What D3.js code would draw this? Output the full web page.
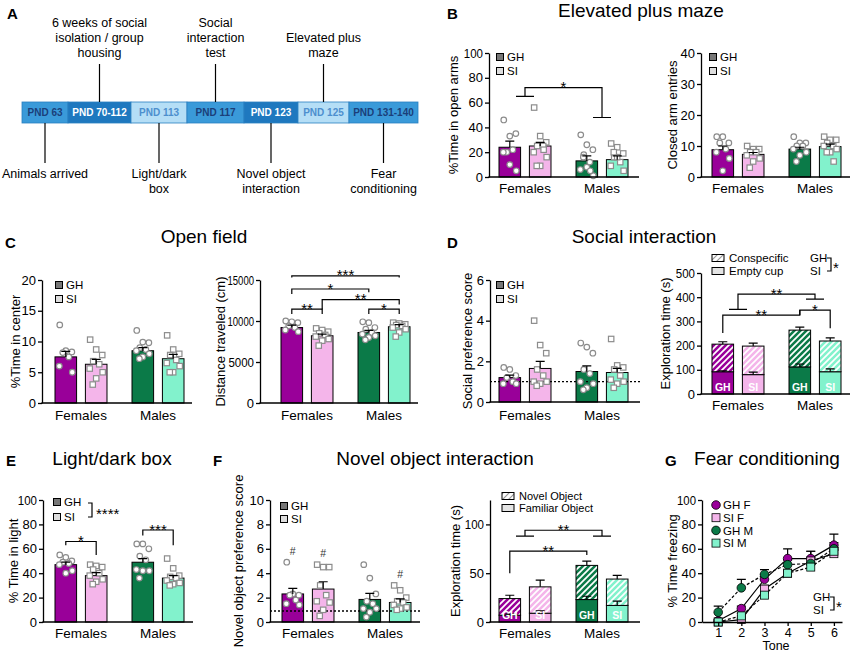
<!DOCTYPE html>
<html>
<head>
<meta charset="utf-8">
<script src="https://cdn.jsdelivr.net/npm/d3@7"></script>
<style>
  body { margin: 0; background: #fff; }
  svg { display: block; font-family: "Liberation Sans", Arial, Helvetica, sans-serif; }
</style>
</head>
<body>
<svg id="fig" width="850" height="653"></svg>
<script>
// 分组与条件
const groups = ["Females", "Males"];
const conds = ["GH", "SI"];

// A：实验时间轴
const pndLabels = ["PND 63", "PND 70-112", "PND 113", "PND 117", "PND 123", "PND 125", "PND 131-140"];
const aboveEvents = [
  { seg: 1, lines: ["6 weeks of social", "isolation / group", "housing"] },
  { seg: 3, lines: ["Social", "interaction", "test"] },
  { seg: 5, lines: ["Elevated plus", "maze"] }
];
const belowEvents = [
  { seg: 0, lines: ["Animals arrived"] },
  { seg: 2, lines: ["Light/dark", "box"] },
  { seg: 4, lines: ["Novel object", "interaction"] },
  { seg: 6, lines: ["Fear", "conditioning"] }
];

// B：高架十字迷宫
const epmOpenMean = [24, 25, 13, 14];
const epmOpenSem = [5, 3, 4, 3];
const epmOpenPts = [
  [46, 33, 35, 20, 22, 20, 5, 10],
  [56, 33, 28, 25, 25, 20, 16, 9, 9, 22],
  [34, 26, 22, 18, 12, 6, 1, 8, 16, 5],
  [27, 24, 19, 16, 12, 9, 5, 16, 20]
];
const epmClosedMean = [8.8, 7.3, 9, 9.8];
const epmClosedSem = [1.2, 0.6, 0.6, 0.8];
const epmClosedPts = [
  [13, 13, 11, 11, 9, 8, 6, 2],
  [10, 9, 9, 8, 8, 7, 6, 5, 3],
  [13, 11, 11, 10, 10, 9, 8, 7, 5],
  [13, 12, 12, 11, 10, 10, 9, 8, 8, 5]
];

// C：旷场
const ofCenterMean = [7.5, 6.3, 8.5, 7.2];
const ofCenterSem = [0.9, 0.8, 0.5, 0.7];
const ofCenterPts = [
  [12.7, 8.5, 8.3, 8.2, 7.5, 6, 5],
  [10.3, 8.7, 7.8, 6.8, 6.3, 5.6, 5, 4, 3],
  [11.8, 9.9, 9.8, 9, 8.7, 8.5, 8, 7.5, 7.2],
  [11, 8.7, 8, 7.8, 7, 6.5, 6, 5, 5]
];
const ofDistMean = [9200, 8200, 8600, 9300];
const ofDistSem = [300, 200, 250, 250];
const ofDistPts = [
  [10000, 9900, 9800, 9400, 9200, 8900, 8700],
  [9100, 8900, 8700, 8500, 8300, 8100, 7800, 7600, 7000],
  [9900, 9800, 9200, 9000, 8600, 8400, 8200, 8000, 7700],
  [9800, 9700, 9600, 9500, 9400, 9200, 9000, 8600, 8100]
];

// D：社交互动
const siPrefMean = [1.2, 1.65, 1.5, 1.45];
const siPrefSem = [0.12, 0.35, 0.28, 0.2];
const siPrefPts = [
  [1.7, 1.6, 1.3, 1.2, 1.0, 0.9, 0.9],
  [4.0, 2.8, 2.4, 1.6, 1.3, 1.0, 1.0, 0.9, 0.8],
  [2.9, 2.7, 2.4, 1.6, 1.4, 1.0, 0.9, 0.7, 0.6],
  [3.1, 1.8, 1.7, 1.6, 1.3, 1.1, 1.0, 0.9, 0.7]
];
const siEmptyCup = [92, 80, 112, 92];
const siEmptyCupSem = [4, 10, 12, 12];
const siConspecific = [114, 118, 152, 127];
const siTotalSem = [10, 12, 12, 13];

// E：明暗箱
const ldLightMean = [47, 38, 49, 36];
const ldLightSem = [2, 2.5, 3, 2];
const ldLightPts = [
  [55, 53, 50, 49, 48, 47, 42, 40],
  [47, 46, 45, 43, 40, 38, 35, 33, 31],
  [64, 64, 60, 54, 51, 43, 42, 42, 36],
  [52, 44, 38, 37, 36, 34, 32, 31, 30]
];

// F：新物体
const noPrefMean = [2.3, 2.7, 1.85, 1.6];
const noPrefSem = [0.45, 0.6, 0.5, 0.3];
const noPrefPts = [
  [4.9, 2.3, 2.2, 2.2, 1.8, 1.5, 1.4],
  [4.7, 4.5, 4.5, 3.0, 2.2, 1.7, 1.6, 1.0, 0.5],
  [4.7, 3.6, 2.3, 1.7, 1.5, 1.1, 1.1, 0.8, 0.4],
  [3.0, 2.6, 2.0, 1.7, 1.6, 1.4, 1.2, 1.1, 1.0]
];
const noPrefHash = [true, true, false, true];
const noFamiliar = [7, 9, 23, 17];
const noFamiliarSem = [1, 2.4, 3.4, 4.4];
const noNovel = [17, 27, 35, 27];
const noTotalSem = [3.4, 7, 4.4, 3.7];

// G：恐惧条件反射
const tones = [1, 2, 3, 4, 5, 6];
const fcNames = ["GH F", "SI F", "GH M", "SI M"];
const fcMean = [
  [1, 11, 35, 52, 52, 63],
  [0, 2, 27, 40, 50, 56],
  [8, 28, 39, 47, 48, 60],
  [0, 5, 22, 40, 45, 58]
];
const fcSem = [
  [1, 2, 4, 8, 6, 9],
  [0.5, 1, 3, 2, 3, 3],
  [5, 7, 4, 4, 10, 5],
  [0.5, 2, 2, 2, 3, 3]
];

// 样式
const barColors = ["#990099", "#f4b5ea", "#0b7a48", "#82f2cc"];
const segWeights = [46, 63, 56, 57, 54, 51, 69];
const segFill = ["#3a9ad9", "#1e78bf", "#b5def6", "#3a9ad9", "#1e78bf", "#b5def6", "#3a9ad9"];
const segText = ["#1b3f7a", "#ffffff", "#4d8fce", "#1b3f7a", "#ffffff", "#4d8fce", "#1b3f7a"];
const jitter = [-0.28, 0, 0.28, -0.14, 0.14, -0.3, 0.3, 0, -0.16, 0.16];
const FONT = '"Liberation Sans", Arial, Helvetica, sans-serif';

const svg = d3.select("#fig");
const defs = svg.append("defs");

// 斜线填充
function hatch(id, base, stripe, w) {
  const p = defs.append("pattern").attr("id", id)
    .attr("patternUnits", "userSpaceOnUse").attr("width", 6).attr("height", 6);
  p.append("rect").attr("width", 6).attr("height", 6).attr("fill", base);
  p.append("path").attr("d", "M-1,1L1,-1M0,6L6,0M5,7L7,5")
    .attr("stroke", stripe).attr("stroke-width", w);
}
barColors.forEach((c, i) => hatch("hatch" + i, c, "#fff", 1.7));
hatch("hatchLegend", "#fff", "#999", 1.2);

function text(g, x, y, s, size, o = {}) {
  return g.append("text").attr("x", x).attr("y", y)
    .attr("font-size", size)
    .attr("text-anchor", o.anchor || "start")
    .attr("font-weight", o.bold ? "bold" : null)
    .attr("fill", o.fill || "#000")
    .text(s);
}

function errBar(g, x, y1, y2) {
  g.append("path").attr("d", `M${x},${y1}V${y2}M${x - 4.5},${y2}H${x + 4.5}`)
    .attr("stroke", "#000").attr("stroke-width", 1.2).attr("fill", "none");
}

function stars(g, x, lineY, s) {
  text(g, x, lineY + 4.5, s, 15, { anchor: "middle" });
}

function styleAxis(a, size) {
  a.attr("font-family", FONT).attr("font-size", size || 13);
  a.select(".domain").attr("stroke-width", 1.3);
  a.selectAll(".tick line").attr("stroke-width", 1.3);
  a.selectAll(".tick text").attr("fill", "#000");
}

// 通用柱状图
function barChart(c) {
  const g = svg.append("g");
  const axisLen = c.axisLen || 150;
  const y = d3.scaleLinear().domain(c.domain).range([c.y0, c.y1]);
  const gx = d3.scaleBand().domain(groups)
    .range([c.ax + c.padL, c.ax + c.padL + 129]).paddingInner(0.325);
  const cx = d3.scaleBand().domain(conds).range([0, gx.bandwidth()]).paddingInner(0.29);
  const bw = cx.bandwidth();
  const bx = i => gx(groups[Math.floor(i / 2)]) + cx(conds[i % 2]);
  const bc = i => bx(i) + bw / 2;
  const gc = k => gx(groups[k]) + gx.bandwidth() / 2;

  if (c.stack) {
    const rows = c.stack.bottom.map((b, i) => ({ bottom: b, top: c.stack.top[i] }));
    const series = d3.stack().keys(["bottom", "top"])(rows);
    series.forEach((s, si) => {
      g.selectAll(null).data(s).enter().append("rect")
        .attr("x", (d, i) => bx(i))
        .attr("y", d => y(d[1]))
        .attr("width", bw)
        .attr("height", d => y(d[0]) - y(d[1]))
        .attr("fill", (d, i) => si === 0 ? barColors[i] : `url(#hatch${i})`)
        .attr("stroke", "#000").attr("stroke-width", 1);
    });
    series[0].forEach((d, i) => errBar(g, bc(i), y(d[1]), y(d[1] + c.stack.bottomSem[i])));
    series[1].forEach((d, i) => errBar(g, bc(i), y(d[1]), y(d[1] + c.stack.topSem[i])));
    series[0].forEach((d, i) => text(g, bc(i), c.y0 - 3, conds[i % 2], 10.5, { anchor: "middle", bold: true, fill: "#fff" }));
  } else {
    g.selectAll(null).data(c.means).enter().append("rect")
      .attr("x", (d, i) => bx(i))
      .attr("y", d => y(d))
      .attr("width", bw)
      .attr("height", d => y(0) - y(d))
      .attr("fill", (d, i) => barColors[i])
      .attr("stroke", "#000").attr("stroke-width", 1);
  }

  if (c.chance != null) {
    g.append("line").attr("x1", c.ax).attr("x2", c.ax + axisLen)
      .attr("y1", y(c.chance)).attr("y2", y(c.chance))
      .attr("stroke", "#000").attr("stroke-width", 1.3).attr("stroke-dasharray", "2,2");
  }

  if (c.points) {
    c.points.forEach((arr, i) => {
      arr.forEach((v, j) => {
        const px = bc(i) + jitter[j % jitter.length] * bw;
        if (i % 2 === 0) {
          g.append("circle").attr("cx", px).attr("cy", y(v)).attr("r", 2.8)
            .attr("fill", "#fff").attr("stroke", "#8c8c8c").attr("stroke-width", 1.2);
        } else {
          g.append("rect").attr("x", px - 2.7).attr("y", y(v) - 2.7).attr("width", 5.4).attr("height", 5.4)
            .attr("fill", "#fff").attr("stroke", "#8c8c8c").attr("stroke-width", 1.2);
        }
      });
    });
  }
  if (c.means) c.means.forEach((m, i) => errBar(g, bc(i), y(m), y(m + c.sems[i])));

  // y 轴
  const ya = g.append("g").attr("transform", `translate(${c.ax},0)`)
    .call(d3.axisLeft(y).tickValues(c.ticks).tickSize(4).tickSizeOuter(0).tickPadding(2).tickFormat(d3.format("d")));
  styleAxis(ya);
  ya.selectAll(".tick text").each(function (d) {
    const s = String(d);
    if (s.length >= 3) d3.select(this).attr("textLength", s.length * (s.length >= 5 ? 5.3 : 6.4)).attr("lengthAdjust", "spacingAndGlyphs");
  });
  // x 轴
  g.append("line").attr("x1", c.ax - 0.6).attr("x2", c.ax + axisLen)
    .attr("y1", c.y0).attr("y2", c.y0).attr("stroke", "#000").attr("stroke-width", 1.3);
  const xa = g.append("g").attr("transform", `translate(0,${c.y0})`)
    .call(d3.axisBottom(gx).tickSize(0).tickPadding(c.labelY - c.y0 - 9.6));
  xa.select(".domain").remove();
  xa.attr("font-family", FONT).attr("font-size", 13.5);
  xa.selectAll(".tick text").attr("fill", "#000");

  // y 轴标题
  g.append("text")
    .attr("transform", `translate(${c.titleX},${(c.y0 + c.y1) / 2}) rotate(-90)`)
    .attr("text-anchor", "middle").attr("dy", "0.35em").attr("font-size", 13)
    .text(c.yTitle);

  // 图例
  if (c.legend) {
    [["GH", "#777"], ["SI", "#ddd"]].forEach(([s, col], k) => {
      const ly = c.legend[1] + k * c.legend[2];
      g.append("rect").attr("x", c.legend[0] - 3.5).attr("y", ly - 3.5).attr("width", 7).attr("height", 7)
        .attr("fill", col).attr("stroke", "#000").attr("stroke-width", 1);
      text(g, c.legend[0] + 7, ly + 4, s, 11.5);
    });
  }
  return { g, y, bc, gc };
}

// 两端向下的显著性括号
function barBracket(ch, i, j, level, endI, endJ, label) {
  const y = ch.y;
  ch.g.append("path")
    .attr("d", `M${ch.bc(i)},${y(endI)}V${y(level)}H${ch.bc(j)}V${y(endJ)}`)
    .attr("fill", "none").attr("stroke", "#000").attr("stroke-width", 1.2);
  stars(ch.g, (ch.bc(i) + ch.bc(j)) / 2, y(level), label);
}

// 组间括号
function groupBracket(ch, lv1, lv2, top, label) {
  const y = ch.y, x1 = ch.gc(0), x2 = ch.gc(1);
  ch.g.append("path")
    .attr("d", `M${x1 - 9},${y(lv1)}H${x1 + 9}M${x1},${y(lv1)}V${y(top)}H${x2}V${y(lv2)}M${x2 - 9},${y(lv2)}H${x2 + 9}`)
    .attr("fill", "none").attr("stroke", "#000").attr("stroke-width", 1.2);
  stars(ch.g, (x1 + x2) / 2, y(top), label);
}

// "GH ] *" 标注
function condBracket(x, y1, y2, label) {
  const g = svg.append("g");
  text(g, x, y1 + 3.5, "GH", 11.5);
  text(g, x, y2 + 4, "SI", 11.5);
  const bx = x + 17;
  g.append("path").attr("d", `M${bx},${y1}H${bx + 4}V${y2}H${bx}`)
    .attr("fill", "none").attr("stroke", "#000").attr("stroke-width", 1.2);
  text(g, bx + 6, (y1 + y2) / 2 + 8.7, label, 15);
}

// 面板标题与字母
function panelTitle(x, y, s) { text(svg, x, y, s, 19, { anchor: "middle" }); }
function panelLetter(x, y, s) { text(svg, x, y, s, 15, { bold: true }); }

// ---------- A ----------
(function timeline() {
  const g = svg.append("g");
  const cum = [0];
  segWeights.forEach(w => cum.push(cum[cum.length - 1] + w));
  const x = d3.scaleLinear().domain([0, cum[cum.length - 1]]).range([22, 418]);
  const top = 102, bot = 123;
  pndLabels.forEach((lab, i) => {
    g.append("rect").attr("x", x(cum[i])).attr("y", top).attr("width", x(cum[i + 1]) - x(cum[i])).attr("height", bot - top)
      .attr("fill", segFill[i]).attr("stroke", "#2a7fc0").attr("stroke-width", 0.8);
    text(g, (x(cum[i]) + x(cum[i + 1])) / 2, 116, lab, 10, { anchor: "middle", bold: true, fill: segText[i] });
  });
  const mid = s => (x(cum[s]) + x(cum[s + 1])) / 2;
  aboveEvents.forEach(ev => {
    const cxp = mid(ev.seg);
    g.append("line").attr("x1", cxp).attr("x2", cxp).attr("y1", 64).attr("y2", top).attr("stroke", "#000").attr("stroke-width", 1.2);
    ev.lines.forEach((s, k) => text(g, cxp, 57 - (ev.lines.length - 1 - k) * 15, s, 12.5, { anchor: "middle" }));
  });
  belowEvents.forEach(ev => {
    const cxp = mid(ev.seg);
    g.append("line").attr("x1", cxp).attr("x2", cxp).attr("y1", bot).attr("y2", 163).attr("stroke", "#000").attr("stroke-width", 1.2);
    ev.lines.forEach((s, k) => text(g, cxp, 178 + k * 15, s, 12.5, { anchor: "middle" }));
  });
})();
panelLetter(7, 19, "A");

// ---------- B ----------
panelLetter(447, 19, "B");
panelTitle(641, 17, "Elevated plus maze");
const chB1 = barChart({
  ax: 489, y0: 177, y1: 53, domain: [0, 100], ticks: [0, 20, 40, 60, 80, 100], padL: 10,
  means: epmOpenMean, sems: epmOpenSem, points: epmOpenPts,
  labelY: 193, yTitle: "%Time in open arms", titleX: 453, legend: [500, 57, 14]
});
groupBracket(chB1, 65, 48, 72, "*");
barChart({
  ax: 701, y0: 177, y1: 53, domain: [0, 40], ticks: [0, 10, 20, 30, 40], padL: 11,
  means: epmClosedMean, sems: epmClosedSem, points: epmClosedPts,
  labelY: 193, yTitle: "Closed arm entries", titleX: 672, legend: [713, 57, 14]
});

// ---------- C ----------
panelLetter(5, 248, "C");
panelTitle(204, 243, "Open field");
barChart({
  ax: 42, y0: 403, y1: 280, domain: [0, 20], ticks: [0, 5, 10, 15, 20], padL: 13,
  means: ofCenterMean, sems: ofCenterSem, points: ofCenterPts,
  labelY: 420, yTitle: "%Time in center", titleX: 15, legend: [59, 285, 14]
});
const chC2 = barChart({
  ax: 260, y0: 403, y1: 280, domain: [0, 15000], ticks: [0, 5000, 10000, 15000], padL: 21, axisLen: 158,
  means: ofDistMean, sems: ofDistSem, points: ofDistPts,
  labelY: 420, yTitle: "Distance traveled (cm)", titleX: 220
});
barBracket(chC2, 0, 3, 15500, 15300, 15300, "***");
barBracket(chC2, 0, 2, 13900, 13300, 13500, "*");
barBracket(chC2, 1, 3, 12600, 11400, 12000, "**");
barBracket(chC2, 0, 1, 11450, 10850, 10850, "**");
barBracket(chC2, 2, 3, 11450, 10850, 10850, "*");

// ---------- D ----------
panelLetter(447, 248, "D");
panelTitle(644, 243, "Social interaction");
barChart({
  ax: 490, y0: 402, y1: 280, domain: [0, 6], ticks: [0, 2, 4, 6], padL: 9,
  means: siPrefMean, sems: siPrefSem, points: siPrefPts, chance: 1,
  labelY: 420, yTitle: "Social preference score", titleX: 467, legend: [500, 285, 14]
});
const chD2 = barChart({
  ax: 701, y0: 394, y1: 273, domain: [0, 500], ticks: [0, 100, 200, 300, 400, 500], padL: 11,
  stack: { bottom: siEmptyCup, bottomSem: siEmptyCupSem, top: siConspecific, topSem: siTotalSem },
  labelY: 410, yTitle: "Exploration time (s)", titleX: 665
});
groupBracket(chD2, 350, 392, 413, "**");
barBracket(chD2, 0, 2, 326, 252, 347, "**");
barBracket(chD2, 2, 3, 347, 326, 272, "*");
(function () {
  const g = svg.append("g");
  g.append("rect").attr("x", 712).attr("y", 254.5).attr("width", 12).attr("height", 7).attr("fill", "url(#hatchLegend)").attr("stroke", "#000");
  g.append("rect").attr("x", 712).attr("y", 267.5).attr("width", 12).attr("height", 7).attr("fill", "#e4e4e4").attr("stroke", "#000");
  text(g, 729, 262, "Conspecific", 11.5);
  text(g, 729, 275, "Empty cup", 11.5);
})();
condBracket(810, 258, 271, "*");

// ---------- E ----------
panelLetter(6, 466, "E");
panelTitle(112, 465, "Light/dark box");
const chE = barChart({
  ax: 43, y0: 622, y1: 500, domain: [0, 100], ticks: [0, 20, 40, 60, 80, 100], padL: 12,
  means: ldLightMean, sems: ldLightSem, points: ldLightPts,
  labelY: 638, yTitle: "% Time in light", titleX: 13, legend: [57, 502, 15]
});
barBracket(chE, 0, 1, 66, 63, 55, "*");
barBracket(chE, 2, 3, 75.4, 71, 63, "***");
(function () {
  const g = svg.append("g");
  g.append("path").attr("d", "M88,503H92V517H88").attr("fill", "none").attr("stroke", "#000").attr("stroke-width", 1.2);
  text(g, 96, 518.5, "****", 15);
})();

// ---------- F ----------
panelLetter(213, 466, "F");
panelTitle(435, 465, "Novel object interaction");
const chF1 = barChart({
  ax: 270, y0: 622, y1: 500, domain: [0, 10], ticks: [0, 2, 4, 6, 8, 10], padL: 12,
  means: noPrefMean, sems: noPrefSem, points: noPrefPts, chance: 0.9,
  labelY: 638, yTitle: "Novel object preference score", titleX: 238, legend: [284, 506, 13]
});
noPrefHash.forEach((h, i) => {
  if (h) text(chF1.g, chF1.bc(i), chF1.y(d3.max(noPrefPts[i]) + 0.9) + 3.5, "#", 10.5, { anchor: "middle", fill: "#333" });
});
const chF2 = barChart({
  ax: 490, y0: 622, y1: 500, domain: [0, 125], ticks: [0, 50, 100], padL: 9,
  stack: { bottom: noFamiliar, bottomSem: noFamiliarSem, top: noNovel, topSem: noTotalSem },
  labelY: 638, yTitle: "Exploration time (s)", titleX: 455
});
groupBracket(chF2, 88, 88, 94, "**");
barBracket(chF2, 0, 2, 72.7, 50, 68.6, "**");
(function () {
  const g = svg.append("g");
  g.append("rect").attr("x", 502).attr("y", 492.5).attr("width", 12).attr("height", 7).attr("fill", "url(#hatchLegend)").attr("stroke", "#000");
  g.append("rect").attr("x", 502).attr("y", 504.5).attr("width", 12).attr("height", 7).attr("fill", "#e4e4e4").attr("stroke", "#000");
  text(g, 519, 500, "Novel Object", 11);
  text(g, 519, 512, "Familiar Object", 11);
})();

// ---------- G ----------
panelLetter(665, 466, "G");
panelTitle(767, 465, "Fear conditioning");
(function fearChart() {
  const g = svg.append("g");
  const y = d3.scaleLinear().domain([0, 100]).range([622, 500]);
  const x = d3.scaleLinear().domain([0.3, 6.35]).range([702, 842]);
  const shapes = ["circle", "square", "circle", "square"];
  const dashes = [null, null, "3,2", "3,2"];

  fcMean.forEach((vals, s) => vals.forEach((v, k) => errBar(g, x(tones[k]), y(v), y(v + fcSem[s][k]))));
  const line = d3.line().x((d, k) => x(tones[k])).y(d => y(d));
  fcMean.forEach((vals, s) => {
    g.append("path").attr("d", line(vals)).attr("fill", "none")
      .attr("stroke", "#000").attr("stroke-width", 1.2).attr("stroke-dasharray", dashes[s]);
  });
  function marker(px, py, s) {
    if (shapes[s] === "circle") {
      g.append("circle").attr("cx", px).attr("cy", py).attr("r", 4.3)
        .attr("fill", barColors[s]).attr("stroke", "#000").attr("stroke-width", 0.8);
    } else {
      g.append("rect").attr("x", px - 4).attr("y", py - 4).attr("width", 8).attr("height", 8)
        .attr("fill", barColors[s]).attr("stroke", "#000").attr("stroke-width", 0.8);
    }
  }
  fcMean.forEach((vals, s) => vals.forEach((v, k) => marker(x(tones[k]), y(v), s)));

  const ya = g.append("g").attr("transform", "translate(702,0)")
    .call(d3.axisLeft(y).tickValues([0, 20, 40, 60, 80, 100]).tickSize(4).tickSizeOuter(0).tickPadding(2));
  styleAxis(ya);
  ya.selectAll(".tick text").filter(d => d === 100).attr("textLength", 19).attr("lengthAdjust", "spacingAndGlyphs");
  const xa = g.append("g").attr("transform", "translate(0,622)")
    .call(d3.axisBottom(x).tickValues(tones).tickSize(4).tickSizeOuter(0).tickPadding(2).tickFormat(d3.format("d")));
  styleAxis(xa, 12.5);
  text(g, 776, 649.5, "Tone", 12.5, { anchor: "middle" });
  g.append("text").attr("transform", "translate(672,561) rotate(-90)")
    .attr("text-anchor", "middle").attr("dy", "0.35em").attr("font-size", 13).text("% Time freezing");

  fcNames.forEach((n, s) => {
    const ly = 505 + s * 12.7;
    marker(716, ly, s);
    text(g, 723, ly + 4.2, n, 11.5);
  });
})();
condBracket(813, 597, 610, "*");
</script>
</body>
</html>
